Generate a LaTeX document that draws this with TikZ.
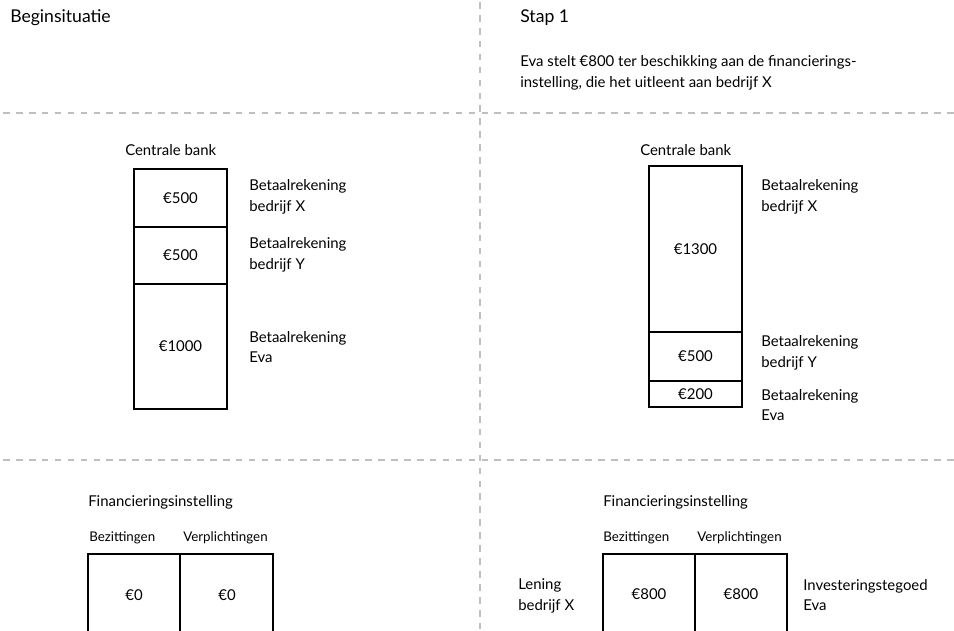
\documentclass[tikz,border=0pt]{standalone}
\usepackage{fontspec}
\setmainfont{Lato}
\usepackage{tikz}
\usetikzlibrary{positioning}
\tikzset{
	cell/.style={draw, line width=1.1pt, inner sep=0pt, outer sep=0pt, minimum width=69.75pt, font=\fontsize{11.2}{14}\selectfont},
	lbl/.style={anchor=west, align=left, inner sep=0pt, font=\fontsize{11.2}{15.5}\selectfont},
	small/.style={anchor=west, inner sep=0pt, font=\fontsize{10}{11}\selectfont},
	title/.style={anchor=west, inner sep=0pt, font=\fontsize{13.2}{15}\selectfont},
	divider/.style={draw=black!25, line width=0.8pt, dash pattern=on 5pt off 4.7pt}
}

\begin{document}
\begin{tikzpicture}[x=0.75pt,y=-0.75pt]
	\useasboundingbox (0,0) rectangle (954,631);
	\clip (0,0) rectangle (954,631);
	%LINES
	\draw[divider] (3,113)--(954,113); %horizontal
	\draw[divider] (3,460)--(954,460);
	\draw[divider] (480,2)--(480,631); %vertical

	%TITLES
	\node[title] (begin) at (10,18) {Beginsituatie};
	\node[title] (stap) at (520,18) {Stap 1};
	\node[lbl] (uitleg) at (520,73) {Eva stelt €800 ter beschikking aan de financierings-\\instelling, die het uitleent aan bedrijf X};

	%LEFT CENTRALE BANK
	\node[lbl] (cbL) at (125,150) {Centrale bank};
	\node[cell, anchor=north west, minimum height=43.5pt] (lX) at (134,169) {€500};
	\node[cell, below=0pt of lX, minimum height=42.75pt] (lY) {€500};
	\node[cell, below=0pt of lY, minimum height=93.75pt] (lEva) {€1000};
	\node[lbl] (lXtxt) at (249,197) {Betaalrekening\\bedrijf X};
	\node[lbl] (lYtxt) at (249,255) {Betaalrekening\\bedrijf Y};
	\node[lbl] (lEvatxt) at (249,347) {Betaalrekening\\Eva};

	%RIGHT CENTRALE BANK
	\node[lbl] (cbR) at (640,150) {Centrale bank};
	\node[cell, anchor=north west, minimum height=124.5pt] (rX) at (649,166) {€1300};
	\node[cell, below=0pt of rX, minimum height=36.75pt] (rY) {€500};
	\node[cell, below=0pt of rY, minimum height=19.5pt] (rEva) {€200};
	\node[lbl] (rXtxt) at (761,197) {Betaalrekening\\bedrijf X};
	\node[lbl] (rYtxt) at (761,353) {Betaalrekening\\bedrijf Y};
	\node[lbl] (rEvatxt) at (761,405) {Betaalrekening\\Eva};

	%LEFT FINANCIERINGSINSTELLING
	\node[lbl] (fiL) at (88,502) {Financieringsinstelling};
	\node[small] (bezL) at (89,538) {Bezittingen};
	\node[small] (verL) at (183,538) {Verplichtingen};
	\node[cell, anchor=north west, minimum width=69pt, minimum height=90pt] (bezLbox) at (88,554) {};
	\node[cell, right=0pt of bezLbox, minimum width=69.75pt, minimum height=90pt] (verLbox) {};
	\node[cell, draw=none] (bezLval) at (134,595) {€0};
	\node[cell, draw=none] (verLval) at (227,595) {€0};

	%RIGHT FINANCIERINGSINSTELLING
	\node[lbl] (fiR) at (603,502) {Financieringsinstelling};
	\node[small] (bezR) at (603,538) {Bezittingen};
	\node[small] (verR) at (697,538) {Verplichtingen};
	\node[cell, anchor=north west, minimum width=69pt, minimum height=90pt] (bezRbox) at (603,554) {};
	\node[cell, right=0pt of bezRbox, minimum width=69pt, minimum height=90pt] (verRbox) {};
	\node[cell, draw=none] (bezRval) at (649,594) {€800};
	\node[cell, draw=none] (verRval) at (741,594) {€800};
	\node[lbl] (lening) at (518,596) {Lening\\bedrijf X};
	\node[lbl] (invest) at (803,595) {Investeringstegoed\\Eva};
\end{tikzpicture}
\end{document}
